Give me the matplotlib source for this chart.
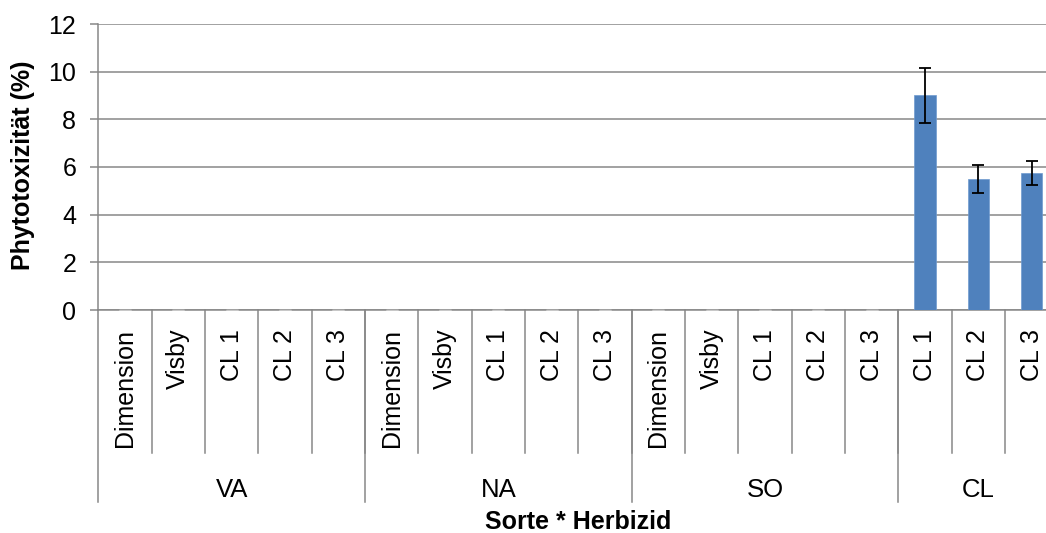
import matplotlib.pyplot as plt
import matplotlib.transforms as mtransforms

plt.rcParams['font.family'] = ['Liberation Sans', 'DejaVu Sans']

# Data
groups = ['VA', 'NA', 'SO', 'CL']
group_sizes = [5, 5, 5, 3]
categories = ['Dimension', 'Visby', 'CL 1', 'CL 2', 'CL 3',
              'Dimension', 'Visby', 'CL 1', 'CL 2', 'CL 3',
              'Dimension', 'Visby', 'CL 1', 'CL 2', 'CL 3',
              'CL 1', 'CL 2', 'CL 3']
values = [0, 0, 0, 0, 0,
          0, 0, 0, 0, 0,
          0, 0, 0, 0, 0,
          9.0, 5.5, 5.75]
errors = [0, 0, 0, 0, 0,
          0, 0, 0, 0, 0,
          0, 0, 0, 0, 0,
          1.15, 0.57, 0.5]

grid_color = '#878787'

fig = plt.figure(figsize=(10.46, 5.33), dpi=100)
# plot area runs a bit past the right edge of the picture, like the original crop
ax = fig.add_axes([98.3 / 1046, 223 / 533, 960 / 1046, 286 / 533])

x = list(range(len(categories)))
ax.bar(x, values, width=0.4, color='#4F81BD', edgecolor='#6f9bd0', linewidth=0.5, zorder=3)

# zero bars only leave a faint cap on the axis, the real ones get black error bars
zero_x = [i for i in x if values[i] == 0]
nonzero_x = [i for i in x if values[i] != 0]
ax.errorbar(zero_x, [values[i] for i in zero_x], yerr=[errors[i] for i in zero_x],
            fmt='none', ecolor='#c8c8c8', elinewidth=1.0, capsize=4.6, capthick=1.0, zorder=4)
ax.errorbar(nonzero_x, [values[i] for i in nonzero_x], yerr=[errors[i] for i in nonzero_x],
            fmt='none', ecolor='black', elinewidth=1.3, capsize=4.6, capthick=1.3, zorder=4)

ax.set_xlim(-0.5, len(categories) - 0.5)
ax.set_ylim(0, 12)
ax.set_yticks(range(0, 13, 2))
ax.yaxis.grid(True, color=grid_color, linewidth=1.1, zorder=0)
ax.tick_params(axis='y', direction='out', length=5.8, width=1.1, color=grid_color,
               labelsize=18, pad=10)
ax.set_xticks([])

for side in ['top', 'right']:
    ax.spines[side].set_visible(False)
ax.spines['left'].set_color(grid_color)
ax.spines['bottom'].set_color(grid_color)
ax.spines['left'].set_linewidth(1.1)
ax.spines['bottom'].set_linewidth(1.1)

# multi-level category axis
trans = mtransforms.blended_transform_factory(ax.transData, ax.transAxes)
for i, cat in enumerate(categories):
    ax.text(i, -0.066, cat, transform=trans, rotation=90, ha='center', va='top',
            fontsize=18)
    if i > 0:
        ax.plot([i - 0.5, i - 0.5], [0, -0.5], transform=trans, color=grid_color,
                linewidth=1.1, clip_on=False)

start = 0
for g, n in zip(groups, group_sizes):
    ax.plot([start - 0.5, start - 0.5], [0, -0.671], transform=trans, color=grid_color,
            linewidth=1.1, clip_on=False)
    ax.text(start + (n - 1) / 2, -0.654, g, transform=trans, ha='center', va='baseline',
            fontsize=18.5)
    start += n
ax.plot([start - 0.5, start - 0.5], [0, -0.671], transform=trans, color=grid_color,
        linewidth=1.1, clip_on=False)

ax.text(0.5, -0.766, 'Sorte * Herbizid', transform=ax.transAxes, ha='center',
        va='baseline', fontsize=18, fontweight='bold')
fig.text(23 / 1046, 1 - 165 / 533, 'Phytotoxizität (%)', rotation=90, ha='center',
         va='center', fontsize=18, fontweight='bold')

fig.savefig('out.png', dpi=100)
